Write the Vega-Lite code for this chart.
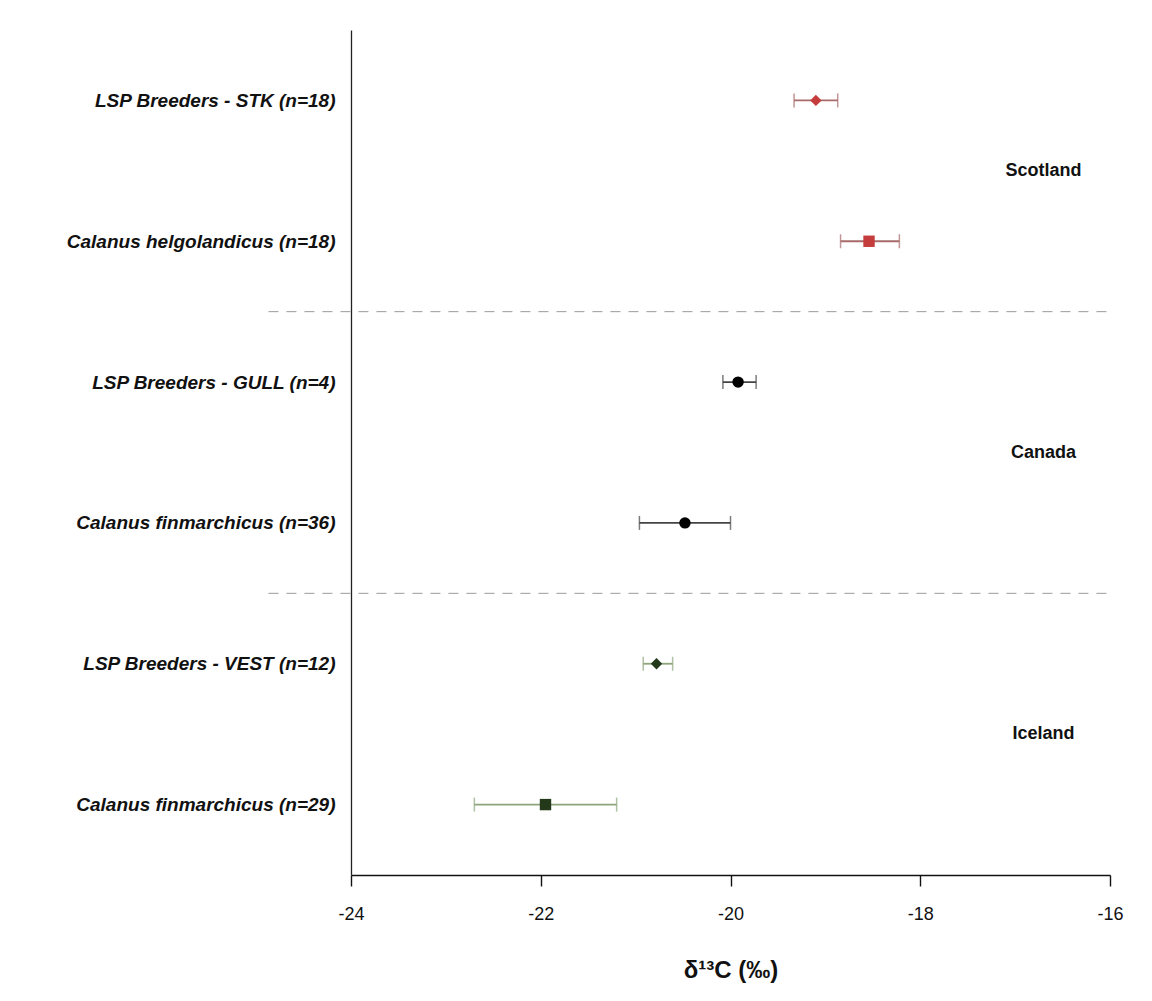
{
  "$schema": "https://vega.github.io/schema/vega-lite/v6.json",
  "autosize": {"type": "none"},
  "padding": {"left": 351, "top": 30, "right": 42, "bottom": 126},
  "width": 759,
  "height": 845,
  "background": "white",
  "config": {
    "view": {"stroke": null},
    "font": "Liberation Sans, Arial, sans-serif"
  },
  "datasets": {
    "rows": [
      {"label": "LSP Breeders - STK (n=18)", "y": 5.5, "mean": -19.1, "lo": -19.33, "hi": -18.87, "region": "Scotland"},
      {"label": "Calanus helgolandicus (n=18)", "y": 4.5, "mean": -18.54, "lo": -18.84, "hi": -18.22, "region": "Scotland"},
      {"label": "LSP Breeders - GULL (n=4)", "y": 3.5, "mean": -19.92, "lo": -20.08, "hi": -19.73, "region": "Canada"},
      {"label": "Calanus finmarchicus (n=36)", "y": 2.5, "mean": -20.48, "lo": -20.96, "hi": -20.0, "region": "Canada"},
      {"label": "LSP Breeders - VEST (n=12)", "y": 1.5, "mean": -20.78, "lo": -20.92, "hi": -20.61, "region": "Iceland"},
      {"label": "Calanus finmarchicus (n=29)", "y": 0.5, "mean": -21.95, "lo": -22.7, "hi": -21.2, "region": "Iceland"}
    ],
    "regions": [
      {"region": "Scotland", "x": -16.7, "y": 5},
      {"region": "Canada", "x": -16.7, "y": 3},
      {"region": "Iceland", "x": -16.7, "y": 1}
    ],
    "seps": [
      {"x": -24.87, "x2": -16.0, "y": 4},
      {"x": -24.87, "x2": -16.0, "y": 2}
    ]
  },
  "layer": [
    {
      "data": {"name": "seps"},
      "mark": {"type": "rule", "color": "#9a9a9a", "strokeWidth": 1, "strokeDash": [10, 8]},
      "encoding": {
        "x": {"field": "x", "type": "quantitative", "title": "δ¹³C (‰)", "scale": {"domain": [-24, -16], "nice": false, "zero": false},
          "axis": {"values": [-24, -22, -20, -18, -16], "grid": false, "domainColor": "#111", "domainWidth": 1.6, "tickColor": "#111", "tickWidth": 1.4, "tickSize": 11,
            "labelExpr": "toString(datum.value)", "labelFlush": false, "labelOverlap": false,
            "labelFontSize": 18, "labelColor": "#111", "labelPadding": 19,
            "titleFontSize": 24, "titleFontWeight": "bold", "titleColor": "#111", "titlePadding": 35}},
        "x2": {"field": "x2"},
        "y": {"field": "y", "type": "quantitative", "title": null, "scale": {"domain": [0, 6], "nice": false, "zero": false},
          "axis": {"values": [0.5, 1.5, 2.5, 3.5, 4.5, 5.5], "grid": false, "ticks": false, "domainColor": "#222", "domainWidth": 1.3,
            "labelExpr": "datum.value == 5.5 ? 'LSP Breeders - STK (n=18)' : datum.value == 4.5 ? 'Calanus helgolandicus (n=18)' : datum.value == 3.5 ? 'LSP Breeders - GULL (n=4)' : datum.value == 2.5 ? 'Calanus finmarchicus (n=36)' : datum.value == 1.5 ? 'LSP Breeders - VEST (n=12)' : 'Calanus finmarchicus (n=29)'",
            "labelLimit": 0, "labelFontSize": 19, "labelFontWeight": "bold", "labelFontStyle": "italic", "labelColor": "#111", "labelPadding": 16}}
      }
    },
    {
      "data": {"name": "rows"},
      "mark": {"type": "errorbar", "ticks": {"size": 14, "thickness": 1.5}, "rule": {"strokeWidth": 1.8}},
      "encoding": {
        "x": {"field": "lo", "type": "quantitative", "title": "δ¹³C (‰)"},
        "x2": {"field": "hi"},
        "y": {"field": "y", "type": "quantitative", "title": null},
        "color": {"field": "region", "type": "nominal", "scale": {"domain": ["Scotland", "Canada", "Iceland"], "range": ["#a86a6a", "#444444", "#8ea57c"]}, "legend": null}
      }
    },
    {
      "data": {"name": "rows"},
      "mark": {"type": "point", "filled": true, "opacity": 1, "size": 130},
      "encoding": {
        "x": {"field": "mean", "type": "quantitative", "title": "δ¹³C (‰)"},
        "y": {"field": "y", "type": "quantitative", "title": null},
        "shape": {"field": "label", "type": "nominal",
          "scale": {"domain": ["LSP Breeders - STK (n=18)", "Calanus helgolandicus (n=18)", "LSP Breeders - GULL (n=4)", "Calanus finmarchicus (n=36)", "LSP Breeders - VEST (n=12)", "Calanus finmarchicus (n=29)"],
            "range": ["diamond", "square", "circle", "circle", "diamond", "square"]}, "legend": null},
        "color": {"field": "region", "type": "nominal", "scale": {"domain": ["Scotland", "Canada", "Iceland"], "range": ["#c53c3c", "#000000", "#24381a"]}, "legend": null}
      }
    },
    {
      "data": {"name": "regions"},
      "mark": {"type": "text", "fontSize": 18, "fontWeight": "bold", "color": "#111", "align": "center", "baseline": "middle"},
      "encoding": {
        "x": {"field": "x", "type": "quantitative", "title": "δ¹³C (‰)"},
        "y": {"field": "y", "type": "quantitative", "title": null},
        "text": {"field": "region", "type": "nominal"}
      }
    }
  ],
  "resolve": {"scale": {"color": "independent"}}
}
